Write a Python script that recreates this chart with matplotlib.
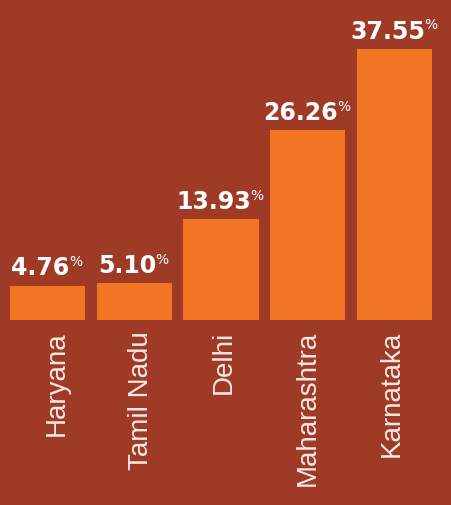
import matplotlib
matplotlib.use("Agg")
import matplotlib.pyplot as plt

states = ["Haryana", "Tamil Nadu", "Delhi", "Maharashtra", "Karnataka"]
shares = [4.76, 5.10, 13.93, 26.26, 37.55]
labels = ["4.76", "5.10", "13.93", "26.26", "37.55"]

BG = "#9F3A26"
BAR = "#F17522"

W, H, DPI = 452, 505, 100
fig = plt.figure(figsize=(W / DPI, H / DPI), dpi=DPI, facecolor=BG)
ax = fig.add_axes([4 / W, 185 / H, 434 / W, 320 / H])
ax.set_facecolor(BG)

x = list(range(len(states)))
ax.bar(x, shares, width=0.865, color=BAR)
ax.set_xlim(-0.5, len(states) - 0.5)
ax.set_ylim(0, 44.34)

for s in ax.spines.values():
    s.set_visible(False)
ax.set_yticks([])
# category labels sit on a slightly tighter pitch than the bars in the original
ax.set_xticks([0.11 + 0.963 * i for i in x])
ax.set_xticklabels(states, rotation=90, fontsize=20, color="#F6EAE4",
                   family="Liberation Sans", va="top", ha="center")
ax.tick_params(axis="x", length=0, pad=8)

for i, (v, lab) in enumerate(zip(shares, labels)):
    t = ax.annotate(lab, xy=(i, v), xytext=(-5, 7.5), textcoords="offset points",
                    ha="center", va="baseline", color="white", fontsize=17,
                    fontweight="bold", family="DejaVu Sans")
    ax.annotate("%", xy=(1, 1), xycoords=t, xytext=(-0.5, 0.8), textcoords="offset points",
                ha="left", va="top", color="white", fontsize=10,
                family="DejaVu Sans")

fig.savefig("out.png", dpi=DPI, facecolor=BG)
